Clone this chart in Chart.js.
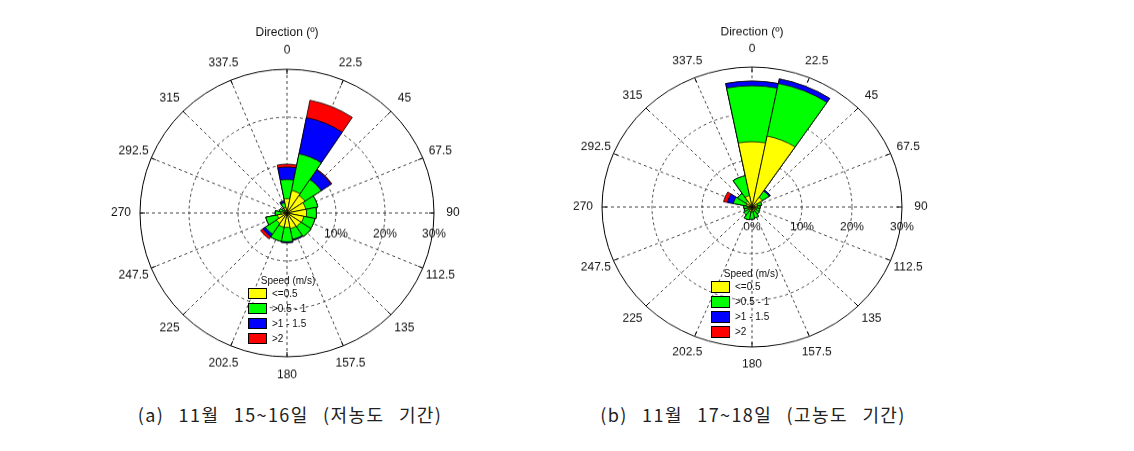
<!DOCTYPE html>
<html>
<head>
<meta charset="utf-8">
<script src="https://cdn.jsdelivr.net/npm/chart.js@4"></script>
<style>
  body { margin: 0; background: #fff; width: 1134px; height: 451px; position: relative; overflow: hidden;
         font-family: "Liberation Sans", Arial, sans-serif; color: #111; }
  .rose { position: absolute; top: 0; }
  .legend { position: absolute; font-size: 10px; }
  .legend .title { position: absolute; white-space: nowrap; transform: translateX(-50%); }
  .legend .row { position: absolute; white-space: nowrap; height: 12px; line-height: 12px; }
  .legend .sw { display: inline-block; width: 17px; height: 10px; border: 1px solid #000; vertical-align: top; margin-right: 5px; }
  .caption { position: absolute; top: 401px; font-family: "Noto Sans CJK KR", sans-serif; font-size: 18px;
             letter-spacing: 1.4px; word-spacing: 9px; color: #222; white-space: nowrap; transform: translateX(-50%); }
</style>
</head>
<body>

<div class="rose" style="left:90px; transform-origin:197px 213px; transform:scaleY(0.978);">
  <canvas id="roseLow" width="420" height="400"></canvas>
</div>
<div class="rose" style="left:550px; transform-origin:202px 207px; transform:scaleY(0.933);">
  <canvas id="roseHigh" width="420" height="400"></canvas>
</div>

<div class="legend" id="legendLow" style="left:248px; top:275px;"></div>
<div class="legend" id="legendHigh" style="left:711px; top:268px;"></div>

<div class="caption" style="left:290px;">(a) 11월 15~16일 (저농도 기간)</div>
<div class="caption" style="left:753px;">(b) 11월 17~18일 (고농도 기간)</div>

<script>
const directions = ['0', '22.5', '45', '67.5', '90', '112.5', '135', '157.5',
                    '180', '202.5', '225', '247.5', '270', '292.5', '315', '337.5'];
const speedBins = ['<=0.5', '>0.5 - 1', '>1 - 1.5', '>2'];
const binColors = ['#ffff00', '#00ff00', '#0000ff', '#ff0000'];
const radialTicks = [0, 10, 20, 30];

// (a) 11/15~16, frequency (%) per direction and speed bin
const lowCalm     = [3.0, 4.8, 4.4, 3.9, 4.0, 3.5, 3.4, 3.3, 3.0, 3.0, 2.6, 2.0, 1.2, 0.8, 0.6, 1.2];
const lowLight    = [4.0, 7.8, 4.0, 2.5, 2.0, 2.3, 2.5, 2.3, 3.0, 3.0, 2.7, 2.4, 1.2, 0.8, 0.6, 1.0];
const lowModerate = [2.6, 7.7, 2.4, 0.0, 0.0, 0.0, 0.0, 0.2, 0.2, 0.0, 0.6, 0.0, 0.0, 0.0, 0.0, 0.4];
const lowStrong   = [0.6, 3.7, 0.2, 0.0, 0.0, 0.0, 0.0, 0.0, 0.0, 0.0, 0.6, 0.0, 0.0, 0.0, 0.0, 0.0];

// (b) 11/17~18
const highCalm     = [14.0, 15.5, 2.5, 1.2, 1.0, 0.8, 0.8, 1.0, 1.0, 1.0, 0.8, 0.8, 0.8, 1.2, 1.5, 2.5];
const highLight    = [12.0, 11.5, 1.6, 0.8, 0.6, 0.8, 1.0, 1.4, 1.6, 1.8, 1.2, 0.8, 0.8, 2.6, 2.0, 4.3];
const highModerate = [1.0, 1.0, 0.3, 0.0, 0.0, 0.0, 0.0, 0.0, 0.0, 0.0, 0.0, 0.0, 0.0, 1.2, 0.0, 0.0];
const highStrong   = [0.0, 0.0, 0.0, 0.0, 0.0, 0.0, 0.0, 0.0, 0.0, 0.0, 0.0, 0.0, 0.0, 0.8, 0.0, 0.0];

// running totals so the wedges stack outward from the centre
function stackBins(bins) {
  const out = [];
  bins.forEach((vals, k) => {
    out.push(vals.map((v, i) => (k ? out[k - 1][i] : 0) + v));
  });
  return out;
}

// dashed spokes, percent labels, direction labels
const roseDecor = {
  id: 'roseDecor',
  beforeDatasetsDraw(chart) {
    const scale = chart.scales.r;
    const ctx = chart.ctx;
    const outer = scale.drawingArea;
    ctx.save();
    ctx.strokeStyle = '#444';
    ctx.lineWidth = 1;
    ctx.setLineDash([3, 3]);
    directions.forEach((d, i) => {
      const p = scale.getPointPosition(i + 0.5, outer);
      ctx.beginPath();
      ctx.moveTo(scale.xCenter, scale.yCenter);
      ctx.lineTo(p.x, p.y);
      ctx.stroke();
    });
    ctx.setLineDash([]);
    ctx.strokeStyle = '#000';
    directions.forEach((d, i) => {
      const a = scale.getPointPosition(i + 0.5, outer - 5);
      const b = scale.getPointPosition(i + 0.5, outer);
      ctx.beginPath();
      ctx.moveTo(a.x, a.y);
      ctx.lineTo(b.x, b.y);
      ctx.stroke();
    });
    ctx.fillStyle = '#111';
    ctx.font = '12px "Liberation Sans", Arial, sans-serif';
    ctx.textAlign = 'center';
    ctx.textBaseline = 'middle';
    radialTicks.forEach(v => {
      ctx.fillText(v + '%', scale.xCenter + scale.getDistanceFromCenterForValue(v), scale.yCenter + 22);
    });
    ctx.restore();
  },
  afterDraw(chart) {
    const scale = chart.scales.r;
    const ctx = chart.ctx;
    const outer = scale.drawingArea;
    ctx.save();
    ctx.fillStyle = '#111';
    ctx.font = '12px "Liberation Sans", Arial, sans-serif';
    ctx.textAlign = 'center';
    ctx.textBaseline = 'middle';
    directions.forEach((d, i) => {
      const p = scale.getPointPosition(i + 0.5, outer + 19);
      ctx.fillText(d, p.x, p.y);
    });
    ctx.fillText('Direction (º)', scale.xCenter, scale.yCenter - outer - 37);
    ctx.restore();
  }
};

function makeRose(id, bins, pad) {
  const stacks = stackBins(bins);
  return new Chart(document.getElementById(id), {
    type: 'polarArea',
    data: {
      labels: directions,
      datasets: stacks.map((vals, k) => ({
        label: speedBins[k],
        data: vals,
        backgroundColor: binColors[k],
        borderColor: '#000',
        borderWidth: 0.8
      }))
    },
    options: {
      responsive: false,
      animation: false,
      events: [],
      layout: { padding: pad },
      plugins: { legend: { display: false }, tooltip: { enabled: false } },
      scales: {
        r: {
          min: 0,
          max: 30,
          startAngle: -11.25,
          ticks: { display: false, stepSize: 10 },
          pointLabels: { display: false },
          angleLines: { display: false },
          grid: {
            circular: true,
            lineWidth: 1,
            color: c => (c.tick && c.tick.value === 30 ? '#000' : '#444')
          },
          border: {
            dash: c => (c.tick && c.tick.value === 30 ? [] : [3, 3])
          }
        }
      }
    },
    plugins: [roseDecor]
  });
}

function makeLegend(id, rowGap, swH) {
  const box = document.getElementById(id);
  const title = document.createElement('div');
  title.className = 'title';
  title.style.left = '40px';
  title.style.top = '0px';
  title.textContent = 'Speed (m/s)';
  box.appendChild(title);
  speedBins.forEach((name, k) => {
    const row = document.createElement('div');
    row.className = 'row';
    row.style.left = '0px';
    row.style.top = (13 + k * rowGap) + 'px';
    const sw = document.createElement('span');
    sw.className = 'sw';
    sw.style.background = binColors[k];
    sw.style.height = swH + 'px';
    row.appendChild(sw);
    row.appendChild(document.createTextNode(name));
    box.appendChild(row);
  });
}

makeRose('roseLow', [lowCalm, lowLight, lowModerate, lowStrong], { left: 50, right: 76, top: 66, bottom: 40 });
makeRose('roseHigh', [highCalm, highLight, highModerate, highStrong], { left: 52, right: 68, top: 57, bottom: 43 });
makeLegend('legendLow', 15, 9);
makeLegend('legendHigh', 15, 10);
</script>
</body>
</html>
